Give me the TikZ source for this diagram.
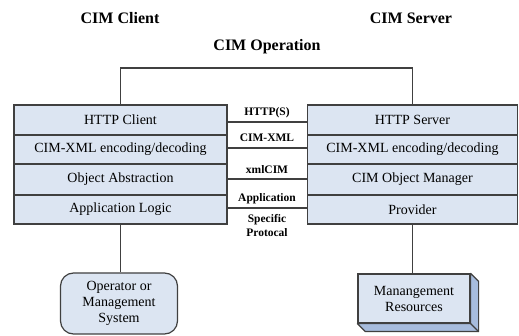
\documentclass[tikz,border=0pt]{standalone}
\usepackage{fontspec}
\setmainfont{Liberation Serif}
\usetikzlibrary{calc}
\definecolor{boxfill}{HTML}{DCE5F2}
\definecolor{sidefill}{HTML}{A7BCDD}
\definecolor{linec}{HTML}{404040}
\tikzset{
  title/.style={font=\fontsize{16}{18}\selectfont\bfseries, inner sep=0pt},
  layer/.style={draw=linec, line width=1.2pt, fill=boxfill, minimum height=#1, inner sep=0pt,
    font=\fontsize{14}{16}\selectfont},
  leftlayer/.style={layer=#1, minimum width=213pt},
  rightlayer/.style={layer=#1, minimum width=210pt},
  proto/.style={font=\fontsize{11.5}{14}\selectfont\bfseries, inner sep=0pt},
  conn/.style={draw=linec, line width=1.2pt},
  endbox/.style={draw=linec, line width=1.2pt, fill=boxfill, inner sep=0pt, align=center,
    font=\fontsize{14}{16}\selectfont},
}
\begin{document}
\begin{tikzpicture}[x=1pt, y=-1pt]
\useasboundingbox (0,0) rectangle (519,336);
% titles
\node[title] (tc) at (120,18) {CIM Client};
\node[title] (ts) at (411,18) {CIM Server};
\node[title] (to) at (267,47) {CIM Operation};
% left stack
\node[leftlayer=30pt] (l1) at (120.5,120) {HTTP Client};
\node[leftlayer=29pt] (l2) at (120.5,149.5) {CIM-XML encoding/decoding};
\node[leftlayer=31pt] (l3) at (120.5,179.5) {Object Abstraction};
\node[leftlayer=29pt] (l4) at (120.5,209.5) {Application Logic};
% right stack
\node[rightlayer=30pt] (r1) at (412.5,120) {HTTP Server};
\node[rightlayer=29pt] (r2) at (412.5,149.5) {CIM-XML encoding/decoding};
\node[rightlayer=31pt] (r3) at (412.5,179.5) {CIM Object Manager};
\node[rightlayer=29pt] (r4) at (412.5,209.5) {Provider};
% top connector
\coordinate (top) at (267,68);
\draw[conn] (l1.north) |- (top) -| (r1.north);
% middle protocol lines
\coordinate (m1) at (267,122);
\coordinate (m2) at (267,148);
\coordinate (m3) at (267,179);
\coordinate (m4) at (267,208);
\draw[conn] (l1.east |- m1) -- (r1.west |- m1);
\draw[conn] (l2.east |- m2) -- (r2.west |- m2);
\draw[conn] (l3.east |- m3) -- (r3.west |- m3);
\draw[conn] (l4.east |- m4) -- (r4.west |- m4);
\node[proto] (p1) at (267,112.5) {HTTP(S)};
\node[proto] (p2) at (267,138) {CIM-XML};
\node[proto] (p3) at (267,169.5) {xmlCIM};
\node[proto] (p4) at (267,198.5) {Application};
\node[proto, align=center] (p5) at (267,225.5) {Specific\\Protocal};
% bottom boxes
\node[endbox, rounded corners=13pt, minimum width=117pt, minimum height=61pt] (op) at (119,303.5)
  {Operator or\\Management\\System};
\draw[conn] (l4.south) -- (l4.south |- op.north);
\node[endbox, minimum width=112pt, minimum height=49pt] (res) at (414,298.5)
  {Manangement\\Resources};
\draw[conn, fill=sidefill, line join=round]
  (res.north east) -- ($(res.north east)+(8,8)$) -- ($(res.south east)+(8,8)$)
  -- ($(res.south west)+(8,8)$) -- (res.south west) -- (res.south east) -- cycle;
\draw[conn] (res.south east) -- ($(res.south east)+(8,8)$);
\draw[conn] (r4.south) -- (r4.south |- res.north);
\end{tikzpicture}
\end{document}
